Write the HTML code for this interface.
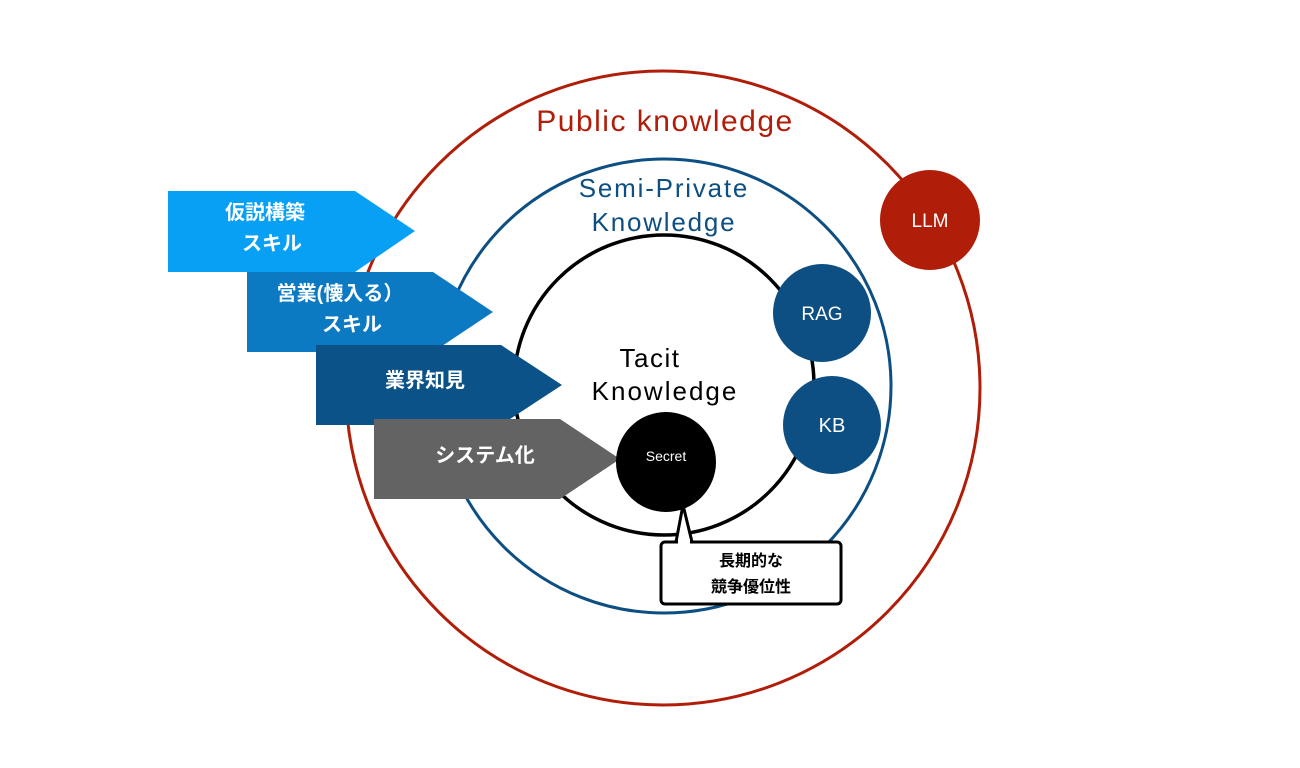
<!DOCTYPE html>
<html><head><meta charset="utf-8"><style>html,body{margin:0;padding:0;background:#fff}svg{display:block}text{font-family:"Liberation Sans","Noto Sans CJK JP",sans-serif}</style></head><body>
<svg width="1300" height="768" viewBox="0 0 1300 768">
<circle cx="663" cy="388" r="317" fill="none" stroke="#b01e0a" stroke-width="3"/>
<circle cx="664" cy="386" r="227" fill="none" stroke="#0d4f82" stroke-width="3"/>
<circle cx="664" cy="385" r="150" fill="none" stroke="#000" stroke-width="3.5"/>
<text x="665" y="131" font-size="30" fill="#b01e0a" text-anchor="middle" letter-spacing="1.5">Public knowledge</text>
<text x="664" y="197" font-size="26" fill="#0d4f82" text-anchor="middle" letter-spacing="1.8">Semi-Private</text>
<text x="664" y="231" font-size="26" fill="#0d4f82" text-anchor="middle" letter-spacing="1.8">Knowledge</text>
<text x="650" y="367" font-size="26" fill="#000" text-anchor="middle" letter-spacing="1.5">Tacit</text>
<text x="665" y="400" font-size="26" fill="#000" text-anchor="middle" letter-spacing="2">Knowledge</text>
<circle cx="930" cy="220" r="50" fill="#b01e0a"/>
<text x="930" y="227" font-size="19" fill="#fff" text-anchor="middle">LLM</text>
<circle cx="822" cy="313" r="49" fill="#0d4f82"/>
<text x="822" y="320" font-size="19" fill="#fff" text-anchor="middle">RAG</text>
<circle cx="832" cy="425" r="49" fill="#0d4f82"/>
<text x="832" y="432" font-size="20" fill="#fff" text-anchor="middle">KB</text>
<polygon points="168,191 355,191 415,231 355,272 168,272" fill="#08a0f5"/>
<polygon points="247,272 433,272 493,312 433,352 247,352" fill="#0b7ac2"/>
<polygon points="316,345 501,345 562,385 501,425 316,425" fill="#0b5288"/>
<polygon points="374,419 560,419 620,459 560,499 374,499" fill="#636363"/>
<g fill="#fff" font-size="20" font-weight="600" text-anchor="middle">
<text x="265" y="219">仮説構築</text>
<text x="272" y="250">スキル</text>
<text x="340" y="300">営業(懐入る）</text>
<text x="352" y="331">スキル</text>
<text x="425" y="387">業界知見</text>
<text x="485" y="462">システム化</text>
</g>
<circle cx="666" cy="462" r="50" fill="#000"/>
<text x="666" y="461" font-size="14" fill="#fff" text-anchor="middle">Secret</text>
<path d="M676,542 L683,505 L692,542" fill="#fff" stroke="#000" stroke-width="3"/>
<rect x="661" y="542" width="180" height="62" rx="4" fill="#fff" stroke="#000" stroke-width="3"/>
<rect x="678" y="539" width="12" height="6" fill="#fff"/>
<text x="751" y="566" font-size="16" font-weight="bold" text-anchor="middle">長期的な</text>
<text x="751" y="592" font-size="16" font-weight="bold" text-anchor="middle">競争優位性</text>
</svg>
</body></html>
